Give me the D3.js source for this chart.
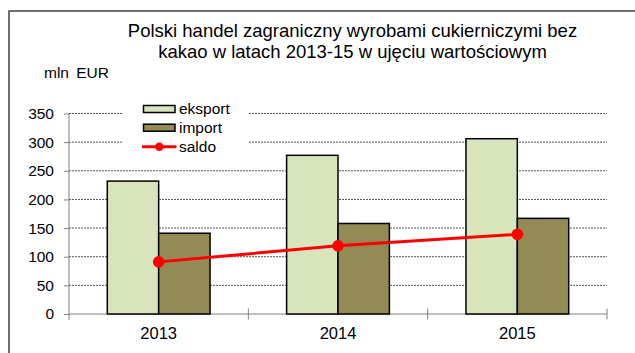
<!DOCTYPE html>
<html>
<head>
<meta charset="utf-8">
<script src="https://cdn.jsdelivr.net/npm/d3@7"></script>
<style>
  html, body { margin: 0; padding: 0; background: #fff; }
  svg { display: block; font-family: "Liberation Sans", Arial, sans-serif; }
</style>
</head>
<body>
<svg id="chart" width="635" height="353"></svg>
<script>
// Foreign trade in confectionery without cocoa, value terms (mln EUR)
const years = ["2013", "2014", "2015"];
const eksport = [232, 277, 306];
const imports = [141, 158, 167];
const saldo = [91, 119, 139];
const yTicks = [0, 50, 100, 150, 200, 250, 300, 350];
const titleLines = [
  "Polski handel zagraniczny wyrobami cukierniczymi bez",
  "kakao w latach 2013-15 w ujęciu wartościowym"
];

const svg = d3.select("#chart");

// Outer frame (runs past the right and bottom edges)
svg.append("rect")
  .attr("x", 9).attr("y", 11)
  .attr("width", 700).attr("height", 400)
  .attr("fill", "#fff")
  .attr("stroke", "#404040").attr("stroke-width", 1.5);

const plot = { left: 69, right: 607, top: 113.5, bottom: 314 };

const x = d3.scaleBand().domain(years).range([plot.left, plot.right]).padding(0);
const y = d3.scaleLinear().domain([0, 350]).range([plot.bottom, plot.top]);
const barW = x.bandwidth() * 0.2865;

// Title
svg.append("text")
  .attr("x", 352.5).attr("y", 37)
  .attr("text-anchor", "middle")
  .attr("font-size", 18.5)
  .attr("fill", "#000")
  .selectAll("tspan").data(titleLines).join("tspan")
  .attr("x", 352.5)
  .attr("dy", (d, i) => i === 0 ? 0 : 20.5)
  .text(d => d);

// Unit label
svg.append("text")
  .attr("x", 44).attr("y", 78)
  .attr("font-size", 15.5)
  .attr("word-spacing", 3)
  .text("mln EUR");

// Gridlines
svg.append("g")
  .selectAll("line").data(yTicks.filter(d => d > 0)).join("line")
  .attr("x1", plot.left).attr("x2", plot.right)
  .attr("y1", d => y(d)).attr("y2", d => y(d))
  .attr("stroke", "#555").attr("stroke-width", 1)
  .attr("stroke-dasharray", "2,1");

// Y axis
const yAxis = svg.append("g")
  .attr("transform", `translate(${plot.left},0)`)
  .call(d3.axisLeft(y).tickValues(yTicks).tickSize(5).tickPadding(10));
yAxis.select(".domain").attr("stroke", "#808080").attr("d", `M0,${plot.top}V${plot.bottom + 6}`);
yAxis.selectAll(".tick line").attr("stroke", "#808080");
yAxis.selectAll(".tick text")
  .attr("font-size", 15.5).attr("fill", "#000")
  .attr("font-family", "Liberation Sans, Arial, sans-serif");

// X axis with category boundary ticks
const xAxisG = svg.append("g");
xAxisG.append("line")
  .attr("x1", plot.left).attr("x2", plot.right)
  .attr("y1", plot.bottom).attr("y2", plot.bottom)
  .attr("stroke", "#808080").attr("stroke-width", 1);
const bounds = years.map(d => x(d)).concat([x(years[years.length - 1]) + x.bandwidth()]);
xAxisG.selectAll("line.tk").data(bounds.slice(1)).join("line")
  .attr("class", "tk")
  .attr("x1", d => d).attr("x2", d => d)
  .attr("y1", plot.bottom - 5.5).attr("y2", plot.bottom + 5.5)
  .attr("stroke", "#808080");
xAxisG.selectAll("text").data(years).join("text")
  .attr("x", d => x(d) + x.bandwidth() / 2)
  .attr("y", 339)
  .attr("text-anchor", "middle")
  .attr("font-size", 16.5)
  .text(d => d);

// Bars
const bars = svg.append("g");
bars.selectAll("rect.eks").data(years).join("rect")
  .attr("class", "eks")
  .attr("x", d => x(d) + x.bandwidth() / 2 - barW)
  .attr("y", (d, i) => y(eksport[i]))
  .attr("width", barW)
  .attr("height", (d, i) => y(0) - y(eksport[i]))
  .attr("fill", "#d8e4bc").attr("stroke", "#000").attr("stroke-width", 1.5);
bars.selectAll("rect.imp").data(years).join("rect")
  .attr("class", "imp")
  .attr("x", d => x(d) + x.bandwidth() / 2)
  .attr("y", (d, i) => y(imports[i]))
  .attr("width", barW)
  .attr("height", (d, i) => y(0) - y(imports[i]))
  .attr("fill", "#948a54").attr("stroke", "#000").attr("stroke-width", 1.5);

// Saldo line
const line = d3.line()
  .x((d, i) => x(years[i]) + x.bandwidth() / 2)
  .y(d => y(d));
svg.append("path")
  .datum(saldo)
  .attr("d", line)
  .attr("fill", "none").attr("stroke", "#ff0000").attr("stroke-width", 3);
svg.append("g").selectAll("circle").data(saldo).join("circle")
  .attr("cx", (d, i) => x(years[i]) + x.bandwidth() / 2)
  .attr("cy", d => y(d))
  .attr("r", 5.8)
  .attr("fill", "#ff0000");

// Legend
const legend = svg.append("g");
legend.append("rect")
  .attr("x", 123).attr("y", 99).attr("width", 126).attr("height", 56)
  .attr("fill", "#fff");
const legendItems = [
  { label: "eksport", fill: "#d8e4bc", type: "bar", cy: 109 },
  { label: "import", fill: "#948a54", type: "bar", cy: 127.7 },
  { label: "saldo", fill: "#ff0000", type: "line", cy: 146.7 }
];
legendItems.forEach(it => {
  if (it.type === "bar") {
    legend.append("rect")
      .attr("x", 143.5).attr("y", it.cy - 3.5)
      .attr("width", 31.5).attr("height", 7)
      .attr("fill", it.fill).attr("stroke", "#000").attr("stroke-width", 1.5);
  } else {
    legend.append("line")
      .attr("x1", 142).attr("x2", 176.5)
      .attr("y1", it.cy).attr("y2", it.cy)
      .attr("stroke", it.fill).attr("stroke-width", 3);
    legend.append("circle")
      .attr("cx", 159.3).attr("cy", it.cy).attr("r", 4.2)
      .attr("fill", it.fill);
  }
  legend.append("text")
    .attr("x", 179).attr("y", it.cy + 5)
    .attr("font-size", 15.5)
    .text(it.label);
});
</script>
</body>
</html>
